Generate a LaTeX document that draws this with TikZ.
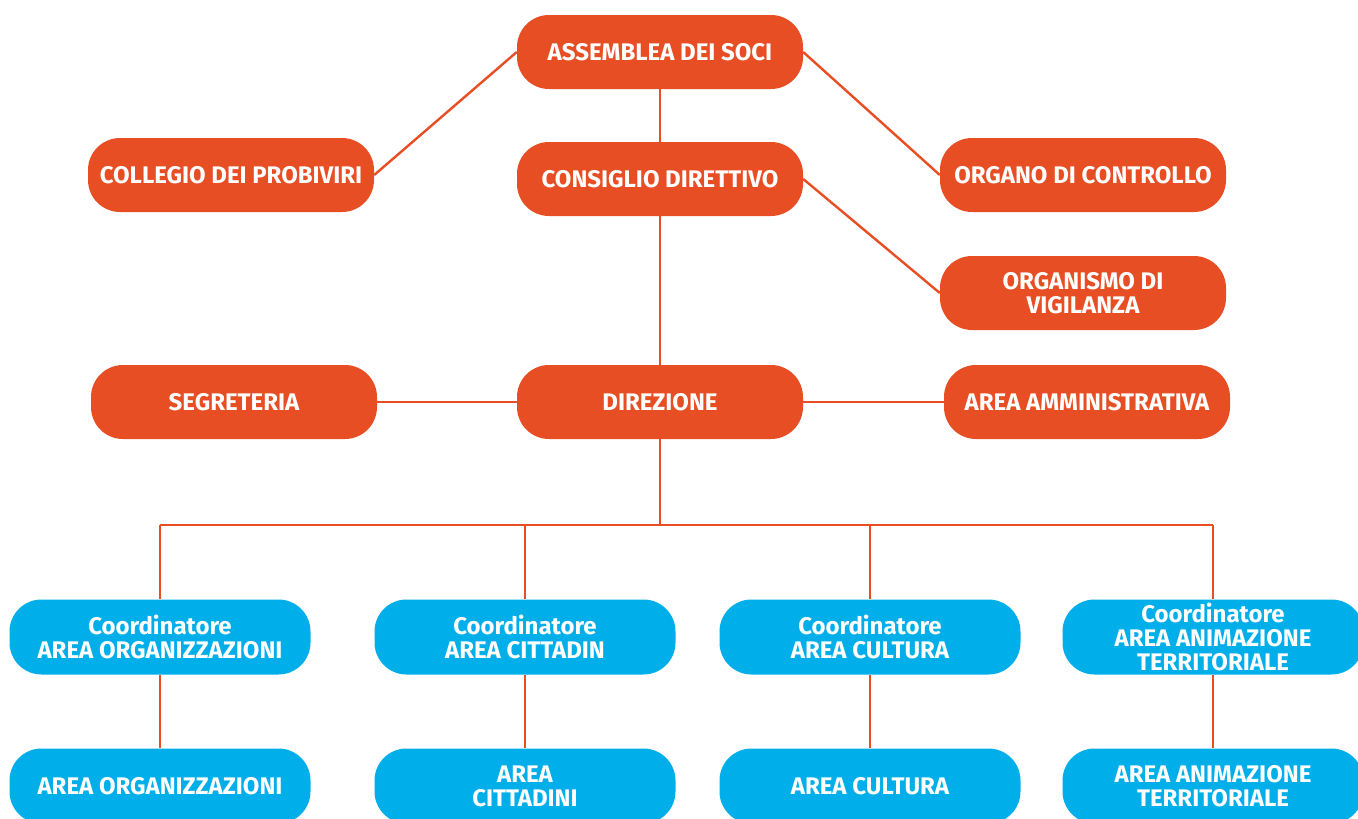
\documentclass[tikz,border=0pt]{standalone}
\usepackage{fontspec}
\setmainfont{Fira Sans}
\definecolor{orgorange}{HTML}{E84E24}
\definecolor{orgblue}{HTML}{00AEEA}
\tikzset{
    orgbox/.style={rectangle, rounded corners=32pt, minimum width=286pt, minimum height=74pt, align=center, text=white, font=\fontsize{24}{24}\selectfont\bfseries},
    orangebox/.style={orgbox, fill=orgorange},
    bluebox/.style={orgbox, fill=orgblue, minimum width=301pt, minimum height=75pt},
    link/.style={draw=orgorange, line width=2.4pt}
}
\begin{document}
\begin{tikzpicture}[x=1pt, y=-1pt]
            \useasboundingbox (0,0) rectangle (1358,819);
            \node[orangebox] (assemblea) at (660, 52) {ASSEMBLEA DEI SOCI};
            \node[orangebox] (collegio) at (231, 175) {COLLEGIO DEI PROBIVIRI};
            \node[orangebox] (consiglio) at (660, 179) {CONSIGLIO DIRETTIVO};
            \node[orangebox] (organo) at (1083, 175) {ORGANO DI CONTROLLO};
            \node[orangebox] (organismo) at (1083, 293) {ORGANISMO DI\\VIGILANZA};
            \node[orangebox] (segreteria) at (234, 402) {SEGRETERIA};
            \node[orangebox] (direzione) at (660, 402) {DIREZIONE};
            \node[orangebox] (amministrativa) at (1087, 402) {AREA AMMINISTRATIVA};

            \node[bluebox] (coordorg) at (160, 637) {Coordinatore\\AREA ORGANIZZAZIONI};
            \node[bluebox] (coordcitt) at (525, 637) {Coordinatore\\AREA CITTADIN};
            \node[bluebox] (coordcult) at (870, 637) {Coordinatore\\AREA CULTURA};
            \node[bluebox] (coordanim) at (1213, 637) {Coordinatore\\AREA ANIMAZIONE\\TERRITORIALE};
            \node[bluebox] (areaorg) at (160, 786) {AREA ORGANIZZAZIONI};
            \node[bluebox] (areacitt) at (525, 786) {AREA\\CITTADINI};
            \node[bluebox] (areacult) at (870, 786) {AREA CULTURA};
            \node[bluebox] (areaanim) at (1213, 786) {AREA ANIMAZIONE\\TERRITORIALE};

            \coordinate (bus) at (660, 525);
            \draw[link] (assemblea.west) -- (collegio.east);
            \draw[link] (assemblea.east) -- (organo.west);
            \draw[link] (assemblea) -- (consiglio);
            \draw[link] (consiglio.east) -- (organismo.west);
            \draw[link] (consiglio) -- (direzione);
            \draw[link] (segreteria) -- (direzione);
            \draw[link] (direzione) -- (amministrativa);
            \draw[link] (direzione) -- (bus);
            \draw[link] (coordorg.north |- bus) -- (coordanim.north |- bus);
            \foreach \coord/\area in {coordorg/areaorg, coordcitt/areacitt, coordcult/areacult, coordanim/areaanim} {
                \draw[link] (\coord) -- (\coord |- bus);
                \draw[link] (\coord) -- (\area);
            }
        \end{tikzpicture}
\end{document}
